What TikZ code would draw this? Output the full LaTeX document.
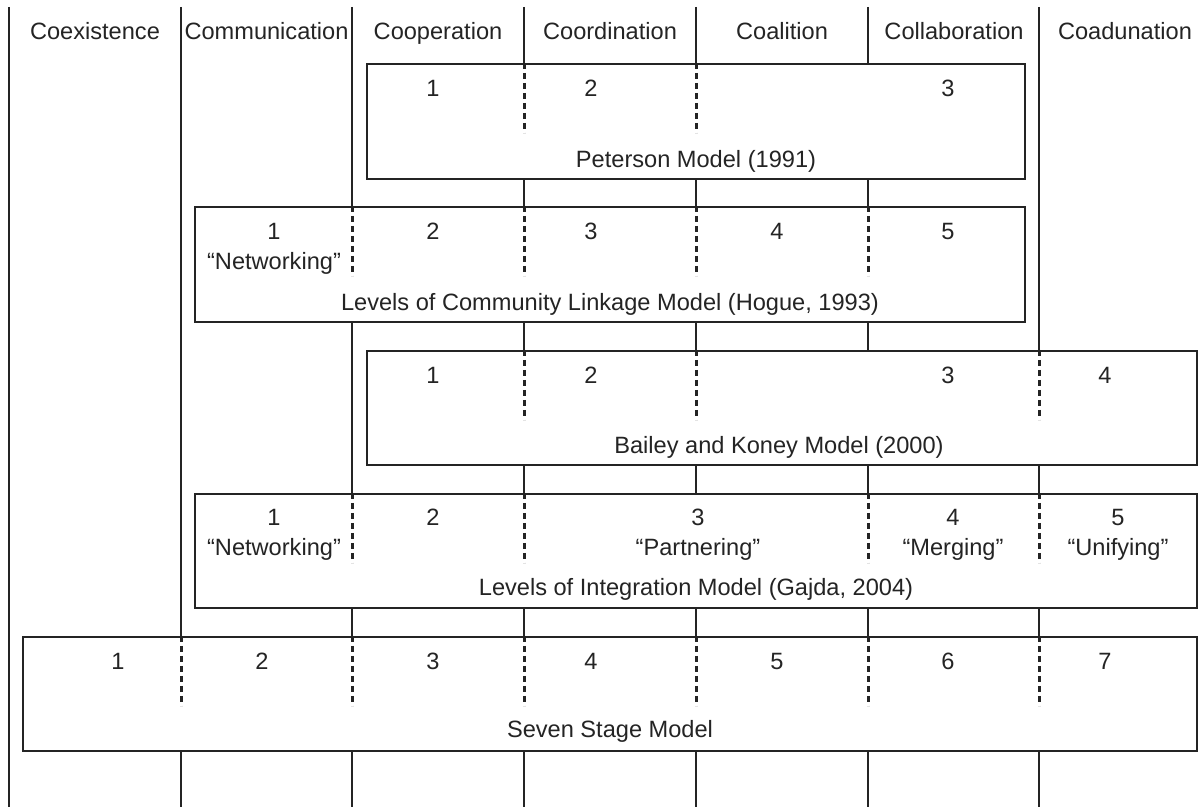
\documentclass[tikz,border=0pt]{standalone}
\usepackage{fontspec}
\setmainfont{Liberation Sans}
\usetikzlibrary{fit}
\definecolor{ink}{RGB}{36,36,36}
\begin{document}
\begin{tikzpicture}[x=0.5pt,y=-0.5pt,
  colline/.style={draw=ink, line width=1.4pt},
  modelbox/.style={draw=ink, line width=1pt, fill=white, inner sep=0pt},
  split/.style={draw=ink, line width=1.5pt, dash pattern=on 3pt off 2pt},
  lbl/.style={text=ink, font=\fontsize{11.8}{13}\selectfont, anchor=base, inner sep=0pt}]
\useasboundingbox (0,0) rectangle (1201,807);

% column boundaries
\foreach \x [count=\i] in {9,181,352,524,696,868,1039}
  \coordinate (c\i) at (\x,7);
\foreach \i in {1,...,7}
  \draw[colline] (c\i) -- (c\i |- 0,807);

% column headings
\node[lbl] (h1) at (95,40)   {Coexistence};
\node[lbl] (h2) at (266.5,40) {Communication};
\node[lbl] (h3) at (438,40)  {Cooperation};
\node[lbl] (h4) at (610,40)  {Coordination};
\node[lbl] (h5) at (782,40)  {Coalition};
\node[lbl] (h6) at (954,40)  {Collaboration};
\node[lbl] (h7) at (1125,40) {Coadunation};

% model boxes
\node[modelbox, fit={(367,64) (1025,179)}]  (pet) {};
\node[modelbox, fit={(195,207) (1025,322)}] (hog) {};
\node[modelbox, fit={(367,351) (1197,465)}] (bai) {};
\node[modelbox, fit={(195,494) (1197,608)}] (gaj) {};
\node[modelbox, fit={(23,637) (1197,751)}]  (sev) {};

% stage separators inside the boxes
\foreach \i in {4,5}         \draw[split] (pet.north -| c\i) -- ++(0,70);
\foreach \i in {3,4,5,6}     \draw[split] (hog.north -| c\i) -- ++(0,70);
\foreach \i in {4,5,7}       \draw[split] (bai.north -| c\i) -- ++(0,70);
\foreach \i in {3,4,6,7}     \draw[split] (gaj.north -| c\i) -- ++(0,70);
\foreach \i in {2,3,4,5,6,7} \draw[split] (sev.north -| c\i) -- ++(0,70);

% Peterson
\node[lbl] (p1) at (433,97) {1};
\node[lbl] (p2) at (591,97) {2};
\node[lbl] (p3) at (948,97) {3};
\node[lbl] (pt) at (696,168) {Peterson Model (1991)};

% Hogue
\node[lbl] (g1) at (274,240) {1};
\node[lbl] (g1n) at (274,270) {“Networking”};
\node[lbl] (g2) at (433,240) {2};
\node[lbl] (g3) at (591,240) {3};
\node[lbl] (g4) at (777,240) {4};
\node[lbl] (g5) at (948,240) {5};
\node[lbl] (gt) at (610,311) {Levels of Community Linkage Model (Hogue, 1993)};

% Bailey and Koney
\node[lbl] (b1) at (433,384) {1};
\node[lbl] (b2) at (591,384) {2};
\node[lbl] (b3) at (948,384) {3};
\node[lbl] (b4) at (1105,384) {4};
\node[lbl] (bt) at (779,454) {Bailey and Koney Model (2000)};

% Gajda
\node[lbl] (j1) at (274,526) {1};
\node[lbl] (j1n) at (274,556) {“Networking”};
\node[lbl] (j2) at (433,526) {2};
\node[lbl] (j3) at (698,526) {3};
\node[lbl] (j3n) at (698,556) {“Partnering”};
\node[lbl] (j4) at (953,526) {4};
\node[lbl] (j4n) at (953,556) {“Merging”};
\node[lbl] (j5) at (1118,526) {5};
\node[lbl] (j5n) at (1118,556) {“Unifying”};
\node[lbl] (jt) at (696,596) {Levels of Integration Model (Gajda, 2004)};

% Seven stage
\node[lbl] (s1) at (118,670) {1};
\node[lbl] (s2) at (262,670) {2};
\node[lbl] (s3) at (433,670) {3};
\node[lbl] (s4) at (591,670) {4};
\node[lbl] (s5) at (777,670) {5};
\node[lbl] (s6) at (948,670) {6};
\node[lbl] (s7) at (1105,670) {7};
\node[lbl] (st) at (610,738) {Seven Stage Model};
\end{tikzpicture}
\end{document}
